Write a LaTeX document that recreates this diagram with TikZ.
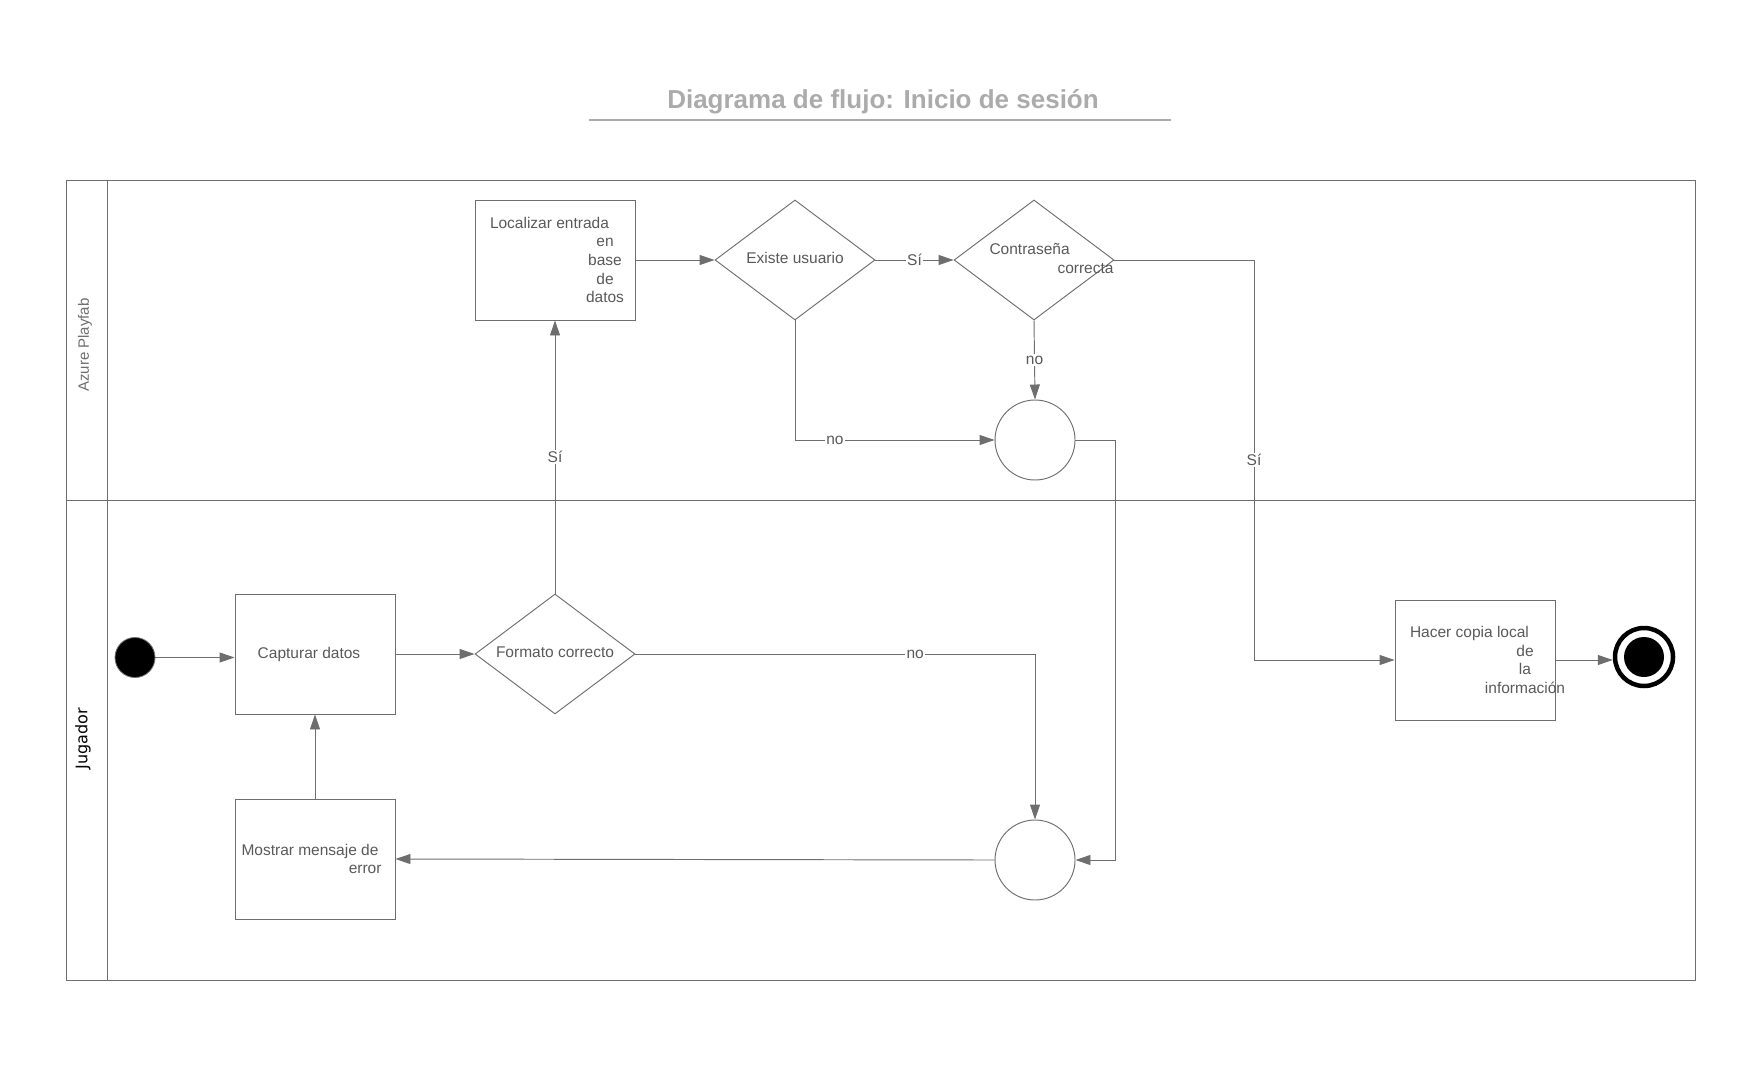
\documentclass[tikz,border=0pt]{standalone}
\usepackage{fontspec}
\setmainfont{Liberation Sans}
\newfontfamily\lanefont{DejaVu Sans}
\usetikzlibrary{arrows.meta,shapes.geometric}

\definecolor{linegray}{HTML}{6E6E6E}
\definecolor{textgray}{HTML}{595959}
\definecolor{titlegray}{HTML}{ABABAB}

\tikzset{
  txt/.style={text=textgray, font=\fontsize{15.5}{18.7}\selectfont, inner sep=0pt},
  base/.style={txt, draw=linegray, line width=0.95pt},
  actbox/.style={base, rectangle, minimum width=160pt, minimum height=120pt},
  decision/.style={base, diamond, minimum width=160pt, minimum height=120pt},
  junction/.style={base, circle, minimum size=80pt},
  flow/.style={draw=linegray, line width=0.95pt, -{Triangle[length=15pt,width=10pt]}},
  lbl/.style={txt, fill=white, inner sep=1.5pt},
  lane/.style={draw=linegray, line width=0.95pt},
}

\begin{document}
\begin{tikzpicture}[x=1pt,y=-1pt]
  \useasboundingbox (0,0) rectangle (1760,1078);

  % title
  \node[text=titlegray, font=\fontsize{26}{30}\bfseries, inner sep=0pt] (title) at (883,102) {Diagrama de flujo: Inicio de sesión};
  \draw[titlegray, line width=2pt] (589,120) -- (1171,120);

  % pool and lanes
  \draw[lane] (66,180) rectangle (1695,980);
  \draw[lane] (107,180) -- (107,980);
  \draw[lane] (66,500) -- (1695,500);
  \node[rotate=90, text=linegray, font=\fontsize{15}{18}\selectfont] (laneA) at (85,345) {Azure Playfab};
  \node[rotate=90, text=black, font=\lanefont\fontsize{16}{19}\selectfont] (laneJ) at (83,739) {Jugador};

  % Azure Playfab lane
  \node[actbox, align=center] (loc) at (555,260) {%
    \makebox[130pt][l]{Localizar entrada}\\
    \makebox[130pt][r]{\makebox[30pt]{en}}\\
    \makebox[130pt][r]{\makebox[30pt]{base}}\\
    \makebox[130pt][r]{\makebox[30pt]{de}}\\
    \makebox[130pt][r]{\makebox[30pt]{datos}}};
  \node[decision] (exists) at (795,260) {\makebox[0pt]{\raisebox{4pt}{Existe usuario}}};
  \node[decision] (pwd) at (1034,260) {};
  \node[txt, align=left, text width=124pt] (pwdtxt) at (1051.5,258.5) {Contraseña\\ \hspace*{\fill}correcta};
  \node[junction] (ctop) at (1035,440) {};

  % Jugador lane
  \node[circle, fill=black, draw=linegray, line width=0.8pt, minimum size=40pt, inner sep=0pt] (start) at (135,657.5) {};
  \node[actbox] (capture) at (315,654) {\raisebox{3pt}{Capturar datos}\kern12pt\null};
  \node[decision] (format) at (555,654) {\makebox[0pt]{\raisebox{3pt}{Formato correcto}}};
  \node[actbox, align=center] (error) at (315,859) {%
    \makebox[147pt][l]{Mostrar mensaje de}\\
    \makebox[147pt][r]{error\hspace*{7pt}}};
  \node[junction] (cbot) at (1035,860) {};
  \node[actbox, align=center] (copy) at (1475,660) {%
    \makebox[130pt][l]{Hacer copia local}\\
    \makebox[130pt][r]{\makebox[30pt]{de}}\\
    \makebox[130pt][r]{\makebox[30pt]{la}}\\
    \makebox[130pt][r]{\makebox[30pt]{información}}};
  \node[circle, draw=black, line width=4.5pt, minimum size=58pt, inner sep=0pt] (stop) at (1644,657) {};
  \node[circle, fill=black, minimum size=40pt, inner sep=0pt] (stopdot) at (stop) {};

  % routing points
  \coordinate (rjog) at (1115,440);
  \coordinate (sjog) at (1254,260);

  % connectors
  \draw[flow] (start) -- (capture.west |- start);
  \draw[flow] (capture) -- (format);
  \draw[flow] (format) -- node[lbl] {Sí} (loc);
  \draw[flow] (loc) -- (exists);
  \draw[flow] (exists) -- node[lbl] {Sí} (pwd);
  \draw[flow] (exists.south) |- node[lbl, pos=0.6] {no} (ctop.west);
  \draw[flow] (pwd.south) -- node[lbl] {no} (ctop.north);
  \draw[flow] (pwd.east) -- (sjog) -- node[lbl] {Sí} (sjog |- copy.west) -- (copy.west);
  \draw[flow] (ctop.east) -- (rjog) |- (cbot.east);
  \draw[flow] (format.east) -| node[lbl, pos=0.35] {no} (cbot.north);
  \draw[flow] (cbot.west) -- (error.east);
  \draw[flow] (error) -- (capture);
  \draw[flow] (copy.east) -- (stop.west |- copy.east);
\end{tikzpicture}
\end{document}
